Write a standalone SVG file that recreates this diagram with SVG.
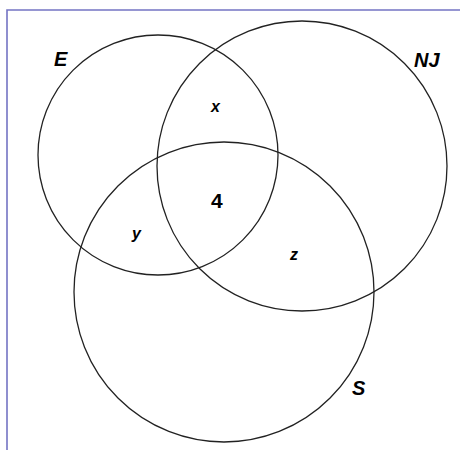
<svg xmlns="http://www.w3.org/2000/svg" width="460" height="450" viewBox="0 0 460 450">
<style>
.c{fill:none;stroke:#222;stroke-width:1.3}
.l{font-family:"Liberation Sans",Arial,sans-serif;font-weight:bold;font-style:italic;fill:#000}
.n{font-family:"Liberation Sans",Arial,sans-serif;font-weight:bold;fill:#000}
</style>
<rect width="460" height="450" fill="#fff"/>
<path d="M7 450 V10 H460" fill="none" stroke="#7474c4" stroke-width="1.6"/>
<g id="E"><circle class="c" cx="158" cy="155" r="120"/><text class="l" x="54" y="66" font-size="20">E</text></g>
<g id="NJ"><circle class="c" cx="302" cy="166" r="145"/><text class="l" x="414" y="67" font-size="20">NJ</text></g>
<g id="S"><circle class="c" cx="224" cy="292" r="150"/><text class="l" x="352" y="395" font-size="20">S</text></g>
<g id="labels">
<text class="l" x="211" y="112" font-size="16">x</text>
<text class="n" x="211" y="208" font-size="21">4</text>
<text class="l" x="132" y="239" font-size="16">y</text>
<text class="l" x="290" y="260" font-size="16">z</text>
</g>
</svg>
